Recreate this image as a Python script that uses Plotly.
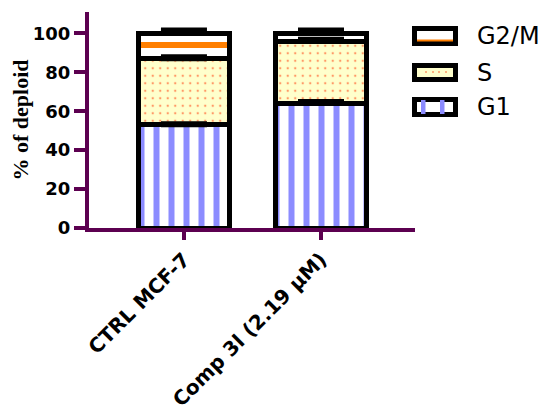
import numpy as np
import plotly.graph_objects as go

# cell-cycle distribution (% of deploid)
categories = ["CTRL MCF-7", "Comp 3l (2.19 \u03bcM)"]
g1 = [53, 64]
s_phase = [34, 32]
g2m = [13, 4]
g1_err = [0.6, 1.0]
s_err = [1.0, 1.0]
g2m_err = [1.8, 1.8]
y_ticks = [0, 20, 40, 60, 80, 100]

PURPLE = "#5c0050"
BLUE = "#8c8cff"
YELLOW = "#ffffcc"
DOT = "#ff9966"
ORANGE = "#ff7f00"

# the page body adds an 8px margin, so work in page pixels and shift back
OFF = 8
FIG_W, FIG_H = 550 - OFF, 411 - OFF
L, R, T, B = 89 - OFF, 415 - OFF, 12 - OFF, 228 - OFF
W, H = R - L, B - T


def px(x):
    return (x - OFF - L) / W


def py(y):
    return (B - (y - OFF)) / H


fig = go.Figure()

bar_line = dict(color="black", width=5)
fig.add_trace(go.Bar(
    x=categories, y=g1, name="G1", width=0.67,
    marker=dict(color="white", line=bar_line,
                pattern=dict(shape="|", fgcolor=BLUE, bgcolor="white",
                             size=15, solidity=0.4, fillmode="replace")),
))
fig.add_trace(go.Bar(
    x=categories, y=s_phase, name="S", width=0.67,
    marker=dict(color=YELLOW, line=bar_line,
                pattern=dict(shape=".", fgcolor=DOT, bgcolor=YELLOW,
                             size=7.5, solidity=0.08, fillmode="replace")),
))
fig.add_trace(go.Bar(
    x=categories, y=g2m, name="G2/M", width=0.67,
    marker=dict(color="white", line=bar_line,
                pattern=dict(shape="-", fgcolor=ORANGE, bgcolor="white",
                             size=66, solidity=0.09, fillmode="replace")),
))

# error bars drawn on top of the stacked segments
tops = np.cumsum([g1, s_phase, g2m], axis=0)
for top, err in zip(tops, [g1_err, s_err, g2m_err]):
    fig.add_trace(go.Scatter(
        x=categories, y=top, mode="markers",
        marker=dict(size=1, color="rgba(0,0,0,0)"),
        error_y=dict(type="data", array=err, arrayminus=[0] * len(err),
                     symmetric=False, color="black", thickness=5, width=23),
        hoverinfo="skip",
    ))

# legend swatches (page pixel positions)
shapes = []
legend_items = [("G2/M", 26, 46), ("S", 63, 82), ("G1", 97, 117)]
annotations = []
for name, y0, y1 in legend_items:
    fill = YELLOW if name == "S" else "white"
    shapes.append(dict(type="rect", xref="paper", yref="paper",
                       x0=px(414.5), x1=px(455.5), y0=py(y0 + 2.5), y1=py(y1 - 2.5),
                       line=dict(color="black", width=5), fillcolor=fill, layer="above"))
    annotations.append(dict(text=name, xref="paper", yref="paper",
                            x=px(475), y=py((y0 + y1) / 2), xanchor="left", yanchor="middle",
                            showarrow=False, font=dict(family="DejaVu Sans", size=24, color="black")))
shapes.append(dict(type="line", xref="paper", yref="paper",
                   x0=px(417), x1=px(453), y0=py(40.5), y1=py(40.5),
                   line=dict(color=ORANGE, width=2), layer="above"))
for xd in [426, 433, 439, 446]:
    shapes.append(dict(type="circle", xref="paper", yref="paper",
                       x0=px(xd - 1), x1=px(xd + 1), y0=py(71), y1=py(73),
                       line=dict(width=0), fillcolor=DOT, layer="above"))
for xs in [421, 440]:
    shapes.append(dict(type="rect", xref="paper", yref="paper",
                       x0=px(xs), x1=px(xs + 4.5), y0=py(100), y1=py(114),
                       line=dict(width=0), fillcolor=BLUE, layer="above"))

fig.update_layout(
    width=FIG_W, height=FIG_H,
    barmode="stack",
    showlegend=False,
    plot_bgcolor="white",
    paper_bgcolor="white",
    margin=dict(l=L, r=FIG_W - R, t=T, b=FIG_H - B, autoexpand=False),
    shapes=shapes,
    annotations=annotations,
    font=dict(family="DejaVu Sans", color="black"),
)
fig.update_xaxes(
    range=[-0.693, 1.686],
    showline=True, linecolor=PURPLE, linewidth=4,
    ticks="outside", ticklen=8, tickwidth=4, tickcolor=PURPLE,
    tickangle=-45, showgrid=False, zeroline=False,
    tickfont=dict(family="DejaVu Sans", size=20, weight="bold", color="black"),
)
fig.update_yaxes(
    range=[0, 111], tickvals=y_ticks,
    showline=True, linecolor=PURPLE, linewidth=4,
    ticks="outside", ticklen=11, tickwidth=4, tickcolor=PURPLE,
    showgrid=False, zeroline=False,
    tickfont=dict(family="DejaVu Sans", size=18, weight="bold", color="black"),
    title=dict(text="% of deploid", standoff=8,
               font=dict(family="Liberation Serif", size=22, weight="bold", color="black")),
)

fig.write_html("out.html")
